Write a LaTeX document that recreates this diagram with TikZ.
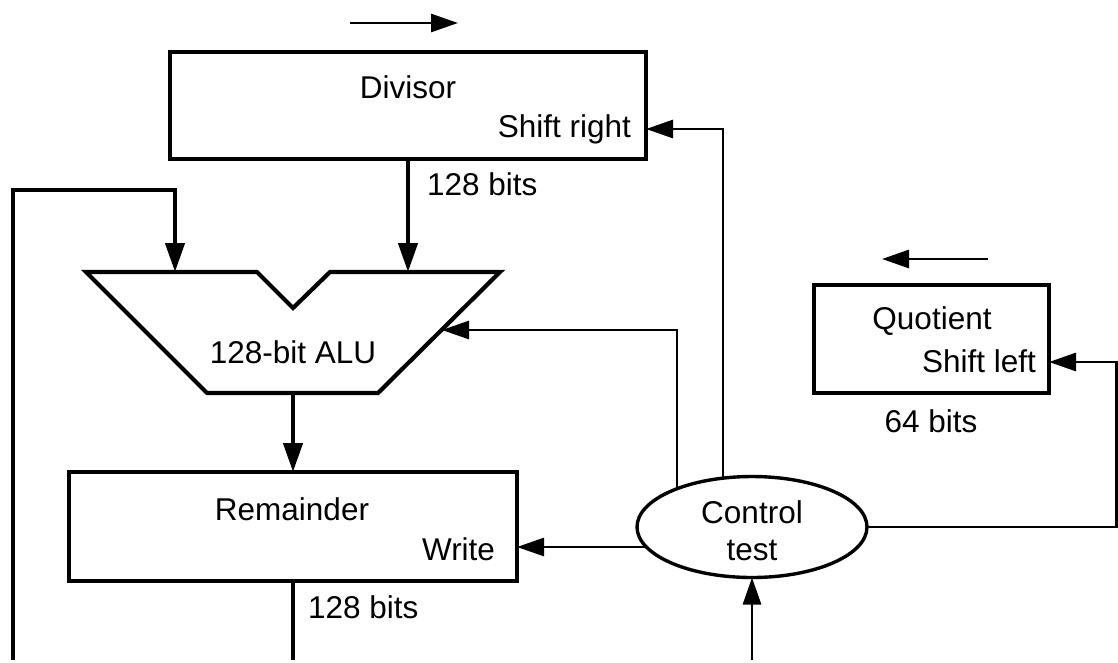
\documentclass[tikz,border=0pt]{standalone}
\usepackage{fontspec}
\setmainfont{Liberation Sans}
\usetikzlibrary{arrows.meta,shapes.geometric,backgrounds}
\begin{document}
\begin{tikzpicture}[x=1pt,y=-1pt,
  every node/.style={font=\fontsize{31.5pt}{37pt}\selectfont, inner sep=0pt, outer sep=0pt},
  reg/.style={draw, line width=4.2pt, rectangle},
  ctlshape/.style={draw, ellipse, line width=3.4pt, fill=white},
  data/.style={line width=4.4pt, -{Triangle[length=29pt,width=19pt]}},
  dataline/.style={line width=4.4pt},
  ctrl/.style={line width=2.9pt, -{Triangle[length=27pt,width=18pt]}},
  lbl/.style={anchor=base},
  lblr/.style={anchor=base east},
  lbll/.style={anchor=base west}]

% boxes
\node[reg, minimum width=476pt, minimum height=107pt] (dv) at (408,105.5) {};
\node[reg, minimum width=235pt, minimum height=108pt] (qt) at (931.5,339) {};
\node[reg, minimum width=448pt, minimum height=109pt] (rm) at (293,526.5) {};
\node[ctlshape, minimum width=230pt, minimum height=101pt] (ctl) at (752,527) {};

% ALU shape
\draw[line width=4.2pt] (86,272) -- (257,272) -- (293,308) -- (330,272) -- (500,272) -- (378,393) -- (207,393) -- cycle;
\coordinate (aluA) at (175,272);
\coordinate (aluB) at (408,272);
\coordinate (aluR) at (442,330);
\coordinate (aluO) at (293,393);

% labels
\node[lbl] (dvT) at (408,98) {Divisor};
\node[lblr] (dvS) at (631,137) {Shift right};
\node[lbll] (dvB) at (427,195) {128 bits};
\node[lbl] (aluT) at (293,363) {128-bit ALU};
\node[lbl] (rmT) at (292,520) {Remainder};
\node[lblr] (rmW) at (495,560) {Write};
\node[lbll] (rmB) at (308,618) {128 bits};
\node[lbl] (qtT) at (932,329) {Quotient};
\node[lblr] (qtS) at (1036,372) {Shift left};
\node[lbl] (qtB) at (931,432) {64 bits};
\node[lbl] (ctlT) at (752,523) {Control};
\node[lbl] (ctlT2) at (752,560) {test};

% direction arrows
\coordinate (dA) at (350,23);
\coordinate (dB) at (458,23);
\coordinate (qA) at (988,259);
\coordinate (qB) at (882,259);
\draw[ctrl] (dA) -- (dB);
\draw[ctrl] (qA) -- (qB);

% data paths
\coordinate (fb) at (13,660);
\coordinate (rmOut) at (293,660);
\coordinate (ctlIn) at (752,660);
\draw[data] (dv.south) -- (aluB);
\draw[data] (fb) |- (aluA |- 0,190) -- (aluA);
\draw[data] (aluO) -- (rm.north);
\draw[dataline] (rm.south) -- (rmOut);
\draw[ctrl] (ctlIn) -- (ctl.south);

% control paths (behind the ellipse)
\begin{scope}[on background layer]
\fill[white] (0,0) rectangle (1118,654);
\draw[ctrl] (ctl.center -| 723,0) |- (dv.east |- 0,129);
\draw[ctrl] (ctl.center -| 677,0) |- (aluR);
\draw[ctrl] (ctl.center |- 0,547) -- (rm.east |- 0,547);
\draw[ctrl] (ctl.center) -- (ctl.center -| 1116.5,0) |- (qt.east |- 0,362);
\end{scope}

\useasboundingbox (0,0) rectangle (1118,654);
\end{tikzpicture}
\end{document}
